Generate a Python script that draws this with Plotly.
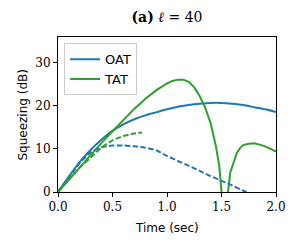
import plotly.graph_objects as go

# ---- data ----
oat_t = [0, 0.1, 0.2, 0.3, 0.4, 0.5, 0.6, 0.7, 0.8, 0.9, 1.0, 1.1, 1.2, 1.3, 1.4, 1.5, 1.6, 1.7, 1.8, 1.9, 2.0]
oat_v = [0, 3.6, 7.0, 9.8, 12.2, 14.2, 15.7, 16.9, 17.8, 18.5, 19.2, 19.8, 20.2, 20.5, 20.7, 20.7, 20.5, 20.2, 19.7, 19.2, 18.6]

tat_t = [0, 0.1, 0.2, 0.3, 0.4, 0.5, 0.6, 0.7, 0.8, 0.9, 1.0, 1.05, 1.1, 1.15, 1.2, 1.25, 1.3, 1.35, 1.4, 1.45, 1.48, 1.5,
         1.53, 1.56, 1.58, 1.6, 1.62, 1.64, 1.67, 1.7, 1.75, 1.8, 1.85, 1.9, 1.95, 2.0]
tat_v = [0, 2.9, 5.7, 8.5, 11.4, 14.1, 16.8, 19.3, 21.6, 23.6, 25.2, 25.8, 26.1, 26.1, 25.6, 24.3, 22.3, 19.6, 16.0, 10.5, 6.0, 0,
         -4, 0, 4.5, 6.0, 7.8, 9.0, 10.2, 10.9, 11.2, 11.3, 11.0, 10.6, 10.0, 9.4]

oat_d_t = [0, 0.1, 0.2, 0.3, 0.4, 0.5, 0.6, 0.7, 0.8, 0.9, 1.0, 1.1, 1.2, 1.3, 1.4, 1.5, 1.6, 1.7, 1.73]
oat_d_v = [0, 3.5, 6.8, 9.2, 10.4, 10.8, 10.8, 10.6, 10.3, 9.7, 8.4, 7.2, 6.1, 4.9, 3.7, 2.6, 1.5, 0.3, 0]

tat_d_t = [0, 0.1, 0.2, 0.3, 0.4, 0.5, 0.6, 0.7, 0.77]
tat_d_v = [0, 2.9, 5.7, 8.0, 10.3, 12.0, 13.0, 13.6, 13.8]

x_ticks = [0, 0.5, 1.0, 1.5, 2.0]
x_tick_text = ["0.0", "0.5", "1.0", "1.5", "2.0"]
y_ticks = [0, 10, 20, 30]

BLUE = "#1f77b4"
GREEN = "#2ca02c"

fig = go.Figure()
fig.add_trace(go.Scatter(x=oat_t, y=oat_v, mode="lines", name="OAT",
                         line=dict(color=BLUE, width=2, shape="spline", smoothing=0.6), legendgroup="oat"))
fig.add_trace(go.Scatter(x=tat_t, y=tat_v, mode="lines", name="TAT",
                         line=dict(color=GREEN, width=2), legendgroup="tat"))
fig.add_trace(go.Scatter(x=oat_d_t, y=oat_d_v, mode="lines", name="OAT", showlegend=False,
                         line=dict(color=BLUE, width=2, dash="5.5px,2.4px", shape="spline", smoothing=0.6),
                         legendgroup="oat"))
fig.add_trace(go.Scatter(x=tat_d_t, y=tat_d_v, mode="lines", name="TAT", showlegend=False,
                         line=dict(color=GREEN, width=2, dash="5.5px,2.4px", shape="spline", smoothing=0.6),
                         legendgroup="tat"))

serif = "DejaVu Serif"
sans = "DejaVu Sans"

# page body adds an 8px offset; figure is sized so the plot lands where the reference has it
W, H = 292, 242
fig.update_layout(
    width=W, height=H,
    margin=dict(l=50, r=24, t=29, b=58),
    paper_bgcolor="white", plot_bgcolor="white",
    title=dict(text="<b>(a)</b> <i>ℓ</i> = 40", x=159 / W, xanchor="center",
               y=1 - 9 / H, yanchor="middle", font=dict(family=serif, size=14, color="black")),
    legend=dict(x=0.028, y=0.96, xanchor="left", yanchor="top",
                bgcolor="rgba(255,255,255,0.8)", bordercolor="#cccccc", borderwidth=1,
                font=dict(family=sans, size=13, color="black"),
                itemwidth=30, tracegroupgap=0),
    showlegend=True,
    annotations=[
        dict(text="Time (sec)", xref="paper", yref="paper", x=0.5, y=-0.235,
             xanchor="center", yanchor="middle", showarrow=False,
             font=dict(family=sans, size=12, color="black")),
        dict(text="Squeezing (dB)", xref="paper", yref="paper", x=-0.165, y=0.5,
             xanchor="center", yanchor="middle", showarrow=False, textangle=-90,
             font=dict(family=sans, size=12, color="black")),
    ],
)
fig.update_xaxes(range=[0, 2.0], tickvals=x_ticks, ticktext=x_tick_text, automargin=False,
                 ticks="outside", ticklen=4, tickcolor="black", showgrid=False, zeroline=False,
                 showline=True, linecolor="black", linewidth=1, mirror=True,
                 tickfont=dict(family=serif, size=12, color="black"))
fig.update_yaxes(range=[0, 36], tickvals=y_ticks, automargin=False,
                 ticks="outside", ticklen=4, tickcolor="black", showgrid=False, zeroline=False,
                 showline=True, linecolor="black", linewidth=1, mirror=True,
                 tickfont=dict(family=serif, size=12, color="black"))

fig.write_html("out.html")
